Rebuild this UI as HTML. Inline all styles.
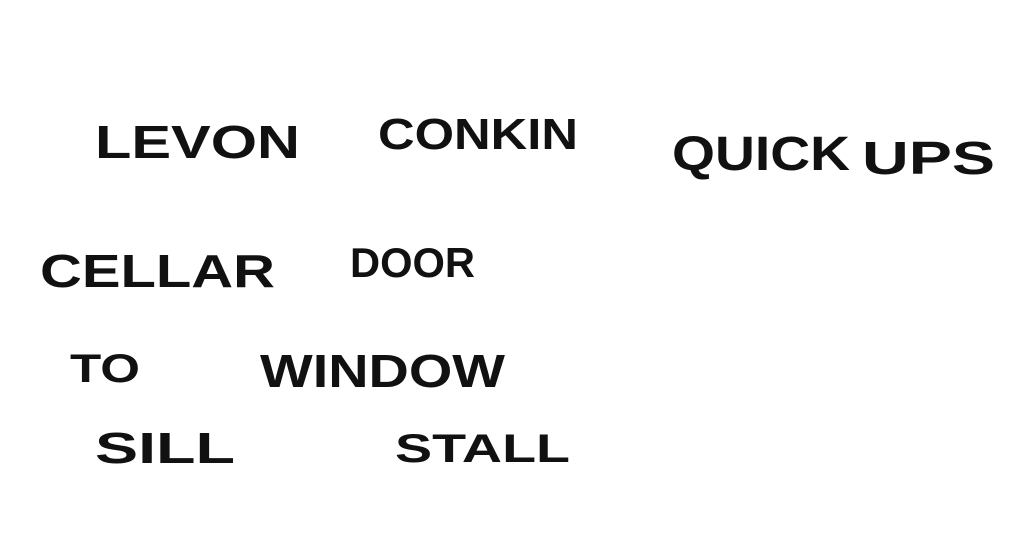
<!DOCTYPE html>
<html><head><meta charset="utf-8"><style>
html,body{margin:0;padding:0;background:#fff;width:1024px;height:548px;overflow:hidden}
svg text{font-family:"Liberation Sans",sans-serif;font-weight:bold;fill:#111}
</style></head><body>
<svg width="1024" height="548" xmlns="http://www.w3.org/2000/svg">
<rect width="1024" height="548" fill="#fff"/>
<text x="95" y="158" font-size="46" textLength="205" lengthAdjust="spacingAndGlyphs">LEVON</text>
<text x="378" y="149" font-size="44" textLength="200" lengthAdjust="spacingAndGlyphs">CONKIN</text>
<text x="672" y="170" font-size="48" textLength="178" lengthAdjust="spacingAndGlyphs">QUICK</text>
<text x="862" y="174" font-size="46" textLength="133" lengthAdjust="spacingAndGlyphs">UPS</text>
<text x="40" y="287" font-size="46" textLength="235" lengthAdjust="spacingAndGlyphs">CELLAR</text>
<text x="350" y="277" font-size="42" textLength="125" lengthAdjust="spacingAndGlyphs">DOOR</text>
<text x="70" y="382" font-size="40" textLength="70" lengthAdjust="spacingAndGlyphs">TO</text>
<text x="260" y="387" font-size="46" textLength="245" lengthAdjust="spacingAndGlyphs">WINDOW</text>
<text x="95" y="463" font-size="44" textLength="140" lengthAdjust="spacingAndGlyphs">SILL</text>
<text x="395" y="462" font-size="40" textLength="175" lengthAdjust="spacingAndGlyphs">STALL</text>
</svg>
</body></html>
